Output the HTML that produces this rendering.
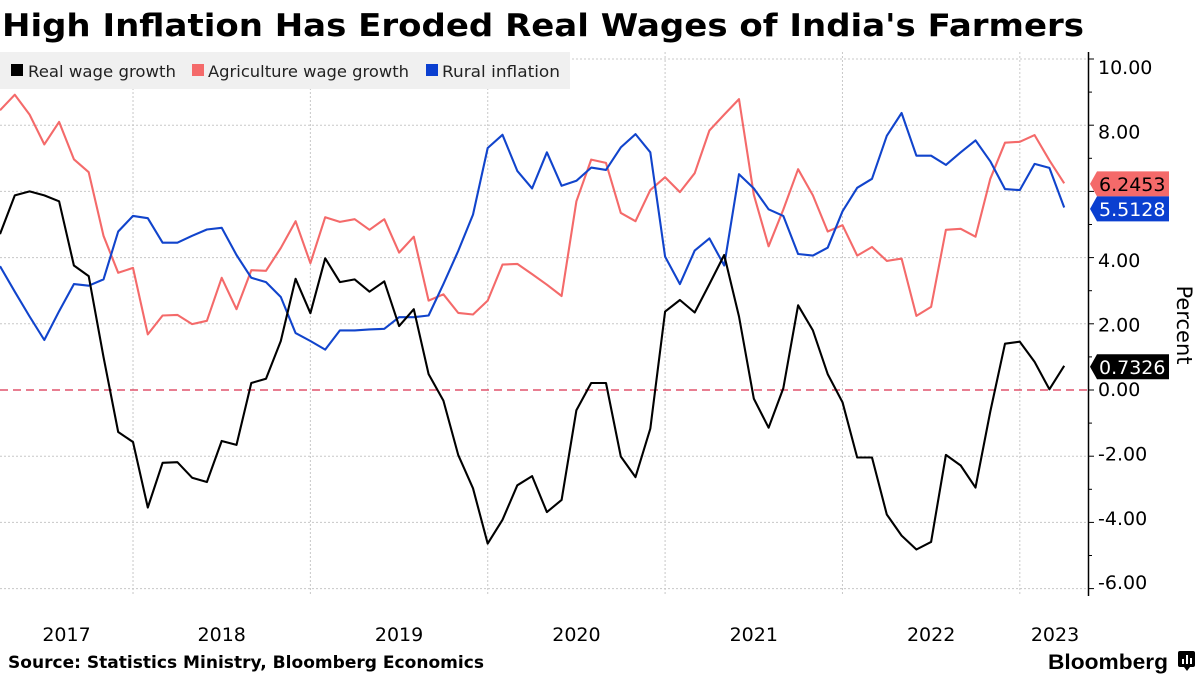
<!DOCTYPE html>
<html><head><meta charset="utf-8"><style>
html,body{margin:0;padding:0;background:#fff;}
svg{display:block;font-family:"DejaVu Sans","Liberation Sans",sans-serif;}
</style></head><body>
<svg id="chart" width="1200" height="675" viewBox="0 0 1200 675">
<text x="2" y="36" font-size="31" font-weight="bold" fill="#000" textLength="1082" lengthAdjust="spacingAndGlyphs">High Inflation Has Eroded Real Wages of India's Farmers</text>
<g id="grid"></g>
<rect x="0" y="52" width="570" height="37" fill="#f0f0f0"/>
<g>
 <g><rect x="11" y="64" width="12" height="12" fill="#000"/><text x="28" y="77" font-size="16" fill="#222" textLength="148" lengthAdjust="spacingAndGlyphs">Real wage growth</text></g>
 <g><rect x="192" y="64" width="12" height="12" fill="#f46a6a"/><text x="208" y="77" font-size="16" fill="#222" textLength="201" lengthAdjust="spacingAndGlyphs">Agriculture wage growth</text></g>
 <g><rect x="426" y="64" width="12" height="12" fill="#0a3fd0"/><text x="442" y="77" font-size="16" fill="#222" textLength="118" lengthAdjust="spacingAndGlyphs">Rural inflation</text></g>
</g>
<g id="series"></g>
<g id="axis"></g>
<text transform="translate(1177,325) rotate(90)" font-size="21" text-anchor="middle" fill="#000">Percent</text>
<g id="xaxis"></g>
<g id="tags"></g>
<text x="8" y="668" font-size="17" font-weight="bold" fill="#000" textLength="476" lengthAdjust="spacingAndGlyphs">Source: Statistics Ministry, Bloomberg Economics</text>
<text x="1048" y="669" font-size="21" font-weight="bold" fill="#000" textLength="120" lengthAdjust="spacingAndGlyphs" font-family="Liberation Sans, sans-serif">Bloomberg</text>
<g><rect x="1178" y="651" width="17" height="16" rx="2" fill="#000"/><path d="M1184 667 l3 4 l3 -4z" fill="#000"/><rect x="1182" y="659" width="2" height="5" fill="#fff"/><rect x="1186" y="655" width="2" height="9" fill="#fff"/><rect x="1190" y="658" width="2" height="6" fill="#fff"/></g>
</svg>
<script>
const realWage = [4.71,5.88,6.0,5.88,5.7,3.76,3.44,1.0,-1.27,-1.57,-3.55,-2.2,-2.18,-2.65,-2.78,-1.54,-1.66,0.21,0.34,1.48,3.36,2.32,3.98,3.26,3.34,2.97,3.28,1.93,2.44,0.48,-0.32,-1.96,-2.97,-4.64,-3.92,-2.88,-2.6,-3.69,-3.32,-0.61,0.21,0.21,-2.01,-2.63,-1.17,2.37,2.72,2.34,3.2,4.08,2.22,-0.26,-1.14,0.05,2.56,1.8,0.48,-0.37,-2.04,-2.04,-3.76,-4.4,-4.82,-4.59,-1.96,-2.28,-2.95,-0.65,1.4,1.46,0.85,0.02,0.7326];
const agriWage = [8.45,8.92,8.32,7.42,8.1,6.97,6.58,4.66,3.54,3.69,1.68,2.25,2.27,1.99,2.09,3.39,2.44,3.62,3.6,4.29,5.1,3.83,5.22,5.08,5.16,4.84,5.16,4.15,4.63,2.7,2.89,2.33,2.28,2.7,3.79,3.81,3.5,3.18,2.84,5.7,6.96,6.86,5.35,5.1,6.04,6.43,5.98,6.55,7.84,8.32,8.79,5.9,4.34,5.45,6.67,5.88,4.79,4.98,4.06,4.32,3.9,3.97,2.24,2.51,4.84,4.87,4.63,6.38,7.47,7.5,7.7,6.94,6.2453];
const ruralInflation = [3.74,2.97,2.22,1.51,2.38,3.2,3.15,3.34,4.79,5.26,5.19,4.45,4.45,4.66,4.85,4.9,4.08,3.39,3.26,2.81,1.72,1.48,1.22,1.8,1.8,1.83,1.85,2.2,2.2,2.25,3.2,4.2,5.3,7.31,7.71,6.62,6.09,7.18,6.17,6.32,6.72,6.65,7.33,7.73,7.18,4.03,3.2,4.21,4.58,3.76,6.52,6.09,5.46,5.26,4.11,4.06,4.3,5.4,6.11,6.38,7.68,8.37,7.08,7.08,6.8,7.18,7.54,6.91,6.07,6.04,6.83,6.71,5.5128];
const yTicks = [10,8,4,2,0,-2,-4,-6];
const yTickLabels = ["10.00","8.00","4.00","2.00","0.00","-2.00","-4.00","-6.00"];
const yearLabels = ["2017","2018","2019","2020","2021","2022","2023"];
const tagLabels = ["6.2453","5.5128","0.7326"];

const NS="http://www.w3.org/2000/svg";
const yS = v => 390 - 33.1*v;
const yL = v => 389 - 32.2*v;
const xS = i => 14.78*i;
function mk(tag, attrs, parent){const e=document.createElementNS(NS,tag);for(const k in attrs)e.setAttribute(k,attrs[k]);parent.appendChild(e);return e;}
const grid=document.getElementById('grid'), series=document.getElementById('series'), axis=document.getElementById('axis'), xaxis=document.getElementById('xaxis'), tags=document.getElementById('tags');

for(let v=10; v>=-6; v-=2){
  if(v===0) continue;
  const l=mk('line',{x1:0,x2:1088,y1:yS(v),y2:yS(v),stroke:'#c8c8c8','stroke-dasharray':'2,2','stroke-width':1},grid);
  
  
}
for(let k=0;k<yearLabels.length-1;k++){
  const x=xS(9+12*k);
  const l=mk('line',{x1:x,x2:x,y1:52,y2:595,stroke:'#c8c8c8','stroke-dasharray':'2,2','stroke-width':1},grid);
  
  
}
const z=mk('line',{x1:0,x2:1088,y1:yS(0),y2:yS(0),stroke:'#d9314f','stroke-dasharray':'8,5','stroke-width':1.2},grid);



function drawLine(arr,color,name){
  const d=arr.map((v,i)=>(i?'L':'M')+xS(i).toFixed(1)+' '+yS(v).toFixed(1)).join(' ');
  const p=mk('path',{d:d,fill:'none',stroke:color,'stroke-width':2.1,'stroke-linejoin':'round'},series);
  
  
}
drawLine(agriWage,'#f46a6a','agriculture-wage-line');
drawLine(ruralInflation,'#1144cc','rural-inflation-line');
drawLine(realWage,'#000','real-wage-line');

const ax=mk('line',{x1:1088.5,x2:1088.5,y1:52,y2:596,stroke:'#000','stroke-width':1.5},axis);


for(let v=10; v>=-6; v-=1){
  const t=mk('line',{x1:1088,x2:(v%2===0?1094:1092),y1:yS(v),y2:yS(v),stroke:'#000','stroke-width':1},axis);
  
  
}
yTicks.forEach((v,i)=>{
  const t=mk('text',{x:1098,y:yL(v)+7,'font-size':19,fill:'#000'},axis);
  t.textContent=yTickLabels[i];
  
  
});
yearLabels.forEach((lab,k)=>{
  const start=Math.max(0,xS(-3+12*k)), end=Math.min(1088,xS(9+12*k));
  const cx = k===yearLabels.length-1 ? 1055 : (start+end)/2;
  const t=mk('text',{x:cx,y:641,'font-size':19,fill:'#000','text-anchor':'middle'},xaxis);
  t.textContent=lab;
  
  
});

const last=[agriWage[agriWage.length-1],ruralInflation[ruralInflation.length-1],realWage[realWage.length-1]];
const tagCol=['#f46a6a','#0a3fd0','#000'], txtCol=['#000','#fff','#fff'];
let ys=last.map(yS);
if(ys[1]-ys[0]<25){const m=(ys[0]+ys[1])/2; ys[0]=m-12.5; ys[1]=m+12.5;}
ys=[ys[0]+1,ys[1]+1,ys[2]+1];
ys.forEach((cy,i)=>{
  const g=mk('g',{},tags);
  
  
  mk('path',{d:`M1090 ${cy} L1097 ${cy-12.5} L1169 ${cy-12.5} L1169 ${cy+12.5} L1097 ${cy+12.5} Z`,fill:tagCol[i]},g);
  const t=mk('text',{x:1099,y:cy+7,'font-size':19,fill:txtCol[i]},g);
  t.textContent=tagLabels[i];
});
</script>
</body></html>
